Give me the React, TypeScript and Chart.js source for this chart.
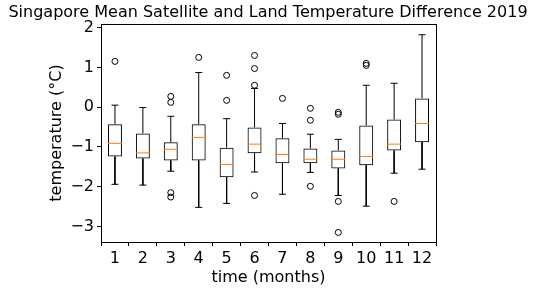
import React, { useEffect, useRef } from "react";
import { Chart, registerables } from "chart.js";

Chart.register(...registerables);

const months = [1, 2, 3, 4, 5, 6, 7, 8, 9, 10, 11, 12];
const q1 = [-1.24, -1.29, -1.34, -1.34, -1.76, -1.16, -1.41, -1.41, -1.54, -1.46, -1.09, -0.88];
const q3 = [-0.43, -0.66, -0.88, -0.43, -1.02, -0.51, -0.78, -1.04, -1.09, -0.46, -0.31, 0.22];
const medians = [-0.91, -1.15, -1.06, -0.76, -1.44, -0.93, -1.19, -1.31, -1.31, -1.24, -0.93, -0.41];
const whiskerLow = [-1.94, -1.96, -1.61, -2.52, -2.42, -1.63, -2.19, -1.64, -2.22, -2.49, -1.66, -1.56];
const whiskerHigh = [0.05, -0.01, -0.23, 0.87, -0.29, 0.47, -0.41, -0.68, -0.81, 0.55, 0.6, 1.82];
const outliers = [
  [1.15],
  [],
  [0.27, 0.12, -2.15, -2.26],
  [1.25],
  [0.8, 0.17],
  [1.3, 0.97, 0.55, -2.22],
  [0.22],
  [-0.03, -0.33, -1.99],
  [-0.13, -0.18, -2.37, -3.15],
  [1.1, 1.05],
  [-2.37],
  [],
];
const yTicks = [-3, -2, -1, 0, 1, 2];
const yMin = -3.39;
const yMax = 2.09;

const BOX_HALF = 0.25;
const CAP_HALF = 0.125;

export default function App() {
  const ref = useRef<HTMLCanvasElement>(null);

  useEffect(() => {
    if (!ref.current) return;
    Chart.defaults.font.family = "'DejaVu Sans', sans-serif";
    Chart.defaults.color = "#000";

    const boxData = months.map((m, i) => ({ x: m, y: [q1[i], q3[i]] }));
    const medianData: any[] = [];
    const whiskerData: any[] = [];
    const outlierData: any[] = [];
    months.forEach((m, i) => {
      medianData.push({ x: m - BOX_HALF, y: medians[i] }, { x: m + BOX_HALF, y: medians[i] }, { x: m, y: null });
      whiskerData.push(
        { x: m, y: q3[i] }, { x: m, y: whiskerHigh[i] }, { x: m, y: null },
        { x: m - CAP_HALF, y: whiskerHigh[i] }, { x: m + CAP_HALF, y: whiskerHigh[i] }, { x: m, y: null },
        { x: m, y: q1[i] }, { x: m, y: whiskerLow[i] }, { x: m, y: null },
        { x: m - CAP_HALF, y: whiskerLow[i] }, { x: m + CAP_HALF, y: whiskerLow[i] }, { x: m, y: null }
      );
      outliers[i].forEach((v) => outlierData.push({ x: m, y: v }));
    });

    const tickGrid = { display: true, drawOnChartArea: false, drawTicks: true, tickLength: 4, color: "#000", lineWidth: 1 };

    const chart = new Chart(ref.current, {
      type: "bar",
      data: {
        datasets: [
          {
            type: "line",
            data: outlierData,
            showLine: false,
            pointRadius: 3,
            pointStyle: "circle",
            pointBackgroundColor: "rgba(0,0,0,0)",
            pointBorderColor: "#000",
            pointBorderWidth: 1,
            order: 0,
          } as any,
          {
            type: "line",
            data: medianData,
            borderColor: "#ff7f0e",
            borderWidth: 1,
            pointRadius: 0,
            spanGaps: false,
            order: 1,
          } as any,
          {
            type: "line",
            data: whiskerData,
            borderColor: "#000",
            borderWidth: 1,
            pointRadius: 0,
            spanGaps: false,
            order: 2,
          } as any,
          {
            type: "bar",
            data: boxData,
            backgroundColor: "rgba(0,0,0,0)",
            borderColor: "#000",
            borderWidth: 1,
            borderSkipped: false,
            barPercentage: 0.5,
            categoryPercentage: 1,
            order: 3,
          } as any,
        ],
      },
      options: {
        responsive: false,
        animation: false,
        events: [],
        layout: { padding: 0 },
        plugins: {
          legend: { display: false },
          tooltip: { enabled: false },
          title: {
            display: true,
            text: "Singapore Mean Satellite and Land Temperature Difference 2019",
            font: { size: 16, weight: "normal" },
            color: "#000",
            padding: { top: 3, bottom: 1.8 },
          },
        },
        scales: {
          x: {
            type: "linear",
            position: "bottom",
            min: 0.5,
            max: 12.5,
            offset: false,
            grid: tickGrid,
            border: { display: true, color: "#000", width: 1 },
            ticks: { font: { size: 16 }, color: "#000", padding: 3, autoSkip: false, maxRotation: 0 },
            afterBuildTicks: (s: any) => { s.ticks = months.map((v) => ({ value: v })); },
            title: { display: true, text: "time (months)", font: { size: 16 }, color: "#000", padding: { top: 0, bottom: 3 } },
            afterFit: (s: any) => { s.height = 48; },
          },
          x2: {
            type: "linear",
            position: "top",
            min: 0.5,
            max: 12.5,
            grid: { display: false },
            ticks: { display: false },
            border: { display: true, color: "#000", width: 1 },
            afterFit: (s: any) => { s.height = 0; },
          },
          y: {
            type: "linear",
            position: "left",
            min: yMin,
            max: yMax,
            grid: tickGrid,
            border: { display: true, color: "#000", width: 1 },
            ticks: {
              font: { size: 16 },
              color: "#000",
              padding: 3,
              callback: (v: any) => (v < 0 ? "\u2212" + Math.abs(v) : String(v)),
            },
            afterBuildTicks: (s: any) => { s.ticks = yTicks.map((v) => ({ value: v })); },
            title: { display: true, text: "temperature (°C)", font: { size: 16 }, color: "#000", padding: { top: 47, bottom: 0 } },
            afterFit: (s: any) => { s.width = 101; },
          },
          y2: {
            type: "linear",
            position: "right",
            min: yMin,
            max: yMax,
            grid: { display: false },
            ticks: { display: false },
            border: { display: true, color: "#000", width: 1 },
            afterFit: (s: any) => { s.width = 100; },
          },
        },
      } as any,
    });
    return () => chart.destroy();
  }, []);

  return (
    <div style={{ position: "absolute", left: 0, top: 0, width: 536, height: 290, background: "#fff" }}>
      <canvas ref={ref} width={536} height={290} />
    </div>
  );
}
